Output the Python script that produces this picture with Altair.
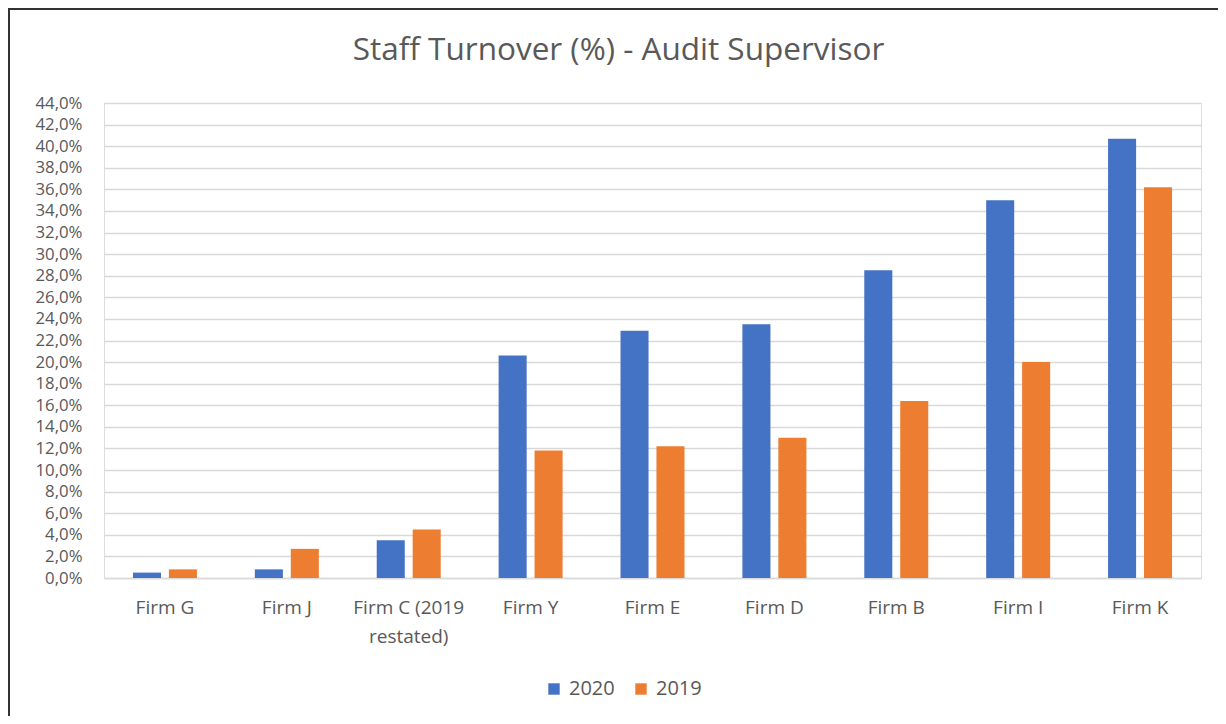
import altair as alt
import pandas as pd

firms = ["Firm G", "Firm J", "Firm C (2019 restated)", "Firm Y", "Firm E",
         "Firm D", "Firm B", "Firm I", "Firm K"]
v2020 = [0.5, 0.8, 3.5, 20.6, 22.9, 23.5, 28.5, 35.0, 40.7]
v2019 = [0.8, 2.7, 4.5, 11.8, 12.2, 13.0, 16.4, 20.0, 36.2]
years = ["2020", "2019"]
colors = ["#4472C4", "#ED7D31"]
yticks = list(range(0, 46, 2))

rows = []
for f, a, b in zip(firms, v2020, v2019):
    rows.append({"firm": f, "year": "2020", "value": a})
    rows.append({"firm": f, "year": "2019", "value": b})
df = pd.DataFrame(rows)

W, H = 1097, 475
FONT = "Open Sans"
GREY = "#595959"

bars = alt.Chart(df).mark_bar().encode(
    x=alt.X("firm:N", sort=firms,
            scale=alt.Scale(paddingInner=0.475, paddingOuter=0.2375),
            axis=alt.Axis(title=None, labelAngle=0, ticks=False, domain=True,
                          domainColor="#D9D9D9", domainWidth=1.3, labelFont=FONT,
                          labelFontSize=19, labelColor=GREY, labelPadding=20,
                          labelLineHeight=29,
                          labelExpr="datum.value == 'Firm C (2019 restated)' ? ['Firm C (2019', 'restated)'] : datum.label")),
    xOffset=alt.XOffset("year:N", sort=years, scale=alt.Scale(paddingInner=0.22)),
    y=alt.Y("value:Q", scale=alt.Scale(domain=[0, 44], nice=False),
            axis=alt.Axis(title=None, values=yticks, domain=False, ticks=False,
                          gridColor="#D9D9D9", gridWidth=1.3, labelFont=FONT,
                          labelFontSize=16.8, labelColor=GREY, labelPadding=22,
                          labelExpr="replace(format(datum.value, '.1f'), '.', ',') + '%'")),
    color=alt.Color("year:N", sort=years,
                    scale=alt.Scale(domain=years, range=colors),
                    legend=alt.Legend(title=None, orient="none", direction="horizontal",
                                      legendX=440, legendY=576, symbolType="square",
                                      symbolSize=130, labelFont=FONT, labelFontSize=20,
                                      labelColor=GREY, columnPadding=16, labelOffset=5)),
)

border = alt.Chart(pd.DataFrame({"k": [0]})).mark_rect(
    fill=None, stroke="#333333", strokeWidth=2, clip=False
).encode(
    x=alt.value(-95), x2=alt.value(W + 120),
    y=alt.value(-94), y2=alt.value(H + 220),
)

chart = alt.layer(bars, border).properties(
    width=W, height=H,
    padding={"left": 96, "top": 95, "right": 17, "bottom": 138},
    autosize=alt.AutoSizeParams(type="none"),
    title=alt.TitleParams("Staff Turnover (%) - Audit Supervisor", font=FONT,
                          fontSize=31.5, fontWeight="normal", color=GREY,
                          anchor="middle", frame="group", offset=0,
                          baseline="alphabetic", dy=83, dx=-34),
).configure_view(stroke=None).configure(background="white")

chart.save("out.html", embed_options={"renderer": "svg", "actions": False})
